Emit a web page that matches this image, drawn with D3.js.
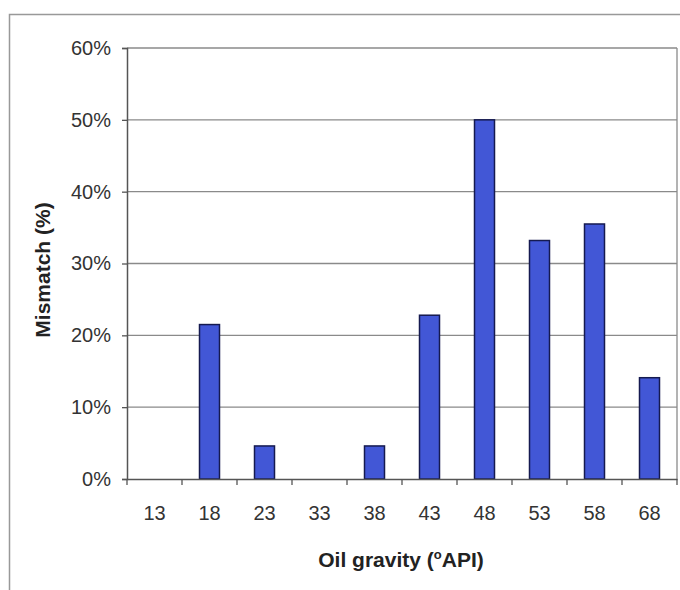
<!DOCTYPE html>
<html><head><meta charset="utf-8">
<script src="https://cdn.jsdelivr.net/npm/d3@7"></script>
<style>body{margin:0;background:#fff;} svg{display:block;}</style>
</head><body>
<script>
const categories = ["13","18","23","33","38","43","48","53","58","68"];
const mismatch = [0, 21.5, 4.6, 0, 4.6, 22.8, 50, 33.2, 35.5, 14.1];
const yTicks = [0,10,20,30,40,50,60];

const W = 680, H = 590;
const svg = d3.select("body").append("svg").attr("width", W).attr("height", H);
const font = "Liberation Sans, Arial, sans-serif";

// outer chart frame
svg.append("path").attr("d","M9.5,590 V14.5 H680").attr("fill","none").attr("stroke","#999").attr("stroke-width",1.5);

const m = {left:127, right:677, top:48, bottom:479};
const xb = d3.scaleBand().domain(categories).range([m.left, m.right]);
const y = d3.scaleLinear().domain([0,60]).range([m.bottom, m.top]);

// gridlines
svg.append("g").selectAll("line").data(yTicks.filter(d=>d>0)).join("line")
  .attr("x1", m.left).attr("x2", m.right).attr("y1", d=>y(d)).attr("y2", d=>y(d))
  .attr("stroke","#8a8a8a").attr("stroke-width",1.3);
// right edge
svg.append("line").attr("x1",m.right).attr("x2",m.right).attr("y1",m.top).attr("y2",m.bottom)
  .attr("stroke","#8a8a8a").attr("stroke-width",1.3);

// bars
svg.append("g").selectAll("rect").data(categories.map((c,i)=>({c,v:mismatch[i]})).filter(d=>d.v>0)).join("rect")
  .attr("x", d=>xb(d.c) + xb.bandwidth()/2 - 10).attr("width", 20)
  .attr("y", d=>y(d.v)).attr("height", d=>y(0)-y(d.v))
  .attr("fill","#4257d6").attr("stroke","#151a50").attr("stroke-width",1.5);

// y axis
const yAxis = d3.axisLeft(y).tickValues(yTicks).tickFormat(d=>d+"%").tickSize(5).tickPadding(11);
const gy = svg.append("g").attr("transform",`translate(${m.left},0)`).call(yAxis);
gy.select(".domain").attr("stroke","#555").attr("stroke-width",1.5);
gy.selectAll(".tick line").attr("stroke","#555").attr("stroke-width",1.3);
gy.selectAll("text").attr("font-family",font).attr("font-size",20).attr("fill","#333");

// x axis
const xAxis = d3.axisBottom(xb).tickValues([]).tickSizeOuter(0);
const gx = svg.append("g").attr("transform",`translate(0,${m.bottom})`).call(xAxis);
gx.select(".domain").attr("stroke","#555").attr("stroke-width",1.5);
const edges = categories.map(c=>xb(c)).concat([m.right]);
gx.selectAll("line.edge").data(edges).join("line").attr("class","edge")
  .attr("x1",d=>d).attr("x2",d=>d).attr("y1",0).attr("y2",6).attr("stroke","#555").attr("stroke-width",1.3);
gx.selectAll("text.lab").data(categories).join("text").attr("class","lab")
  .attr("x", d=>xb(d)+xb.bandwidth()/2).attr("y", 41).attr("text-anchor","middle")
  .attr("font-family",font).attr("font-size",20).attr("fill","#333").text(d=>d);

// axis titles
svg.append("text").attr("transform","translate(50,270) rotate(-90)").attr("text-anchor","middle")
  .attr("font-family",font).attr("font-size",21).attr("font-weight","bold").attr("fill","#222").text("Mismatch (%)");
const xt = svg.append("text").attr("x",401).attr("y",567).attr("text-anchor","middle")
  .attr("font-family",font).attr("font-size",21).attr("font-weight","bold").attr("fill","#222");
xt.append("tspan").text("Oil gravity (");
xt.append("tspan").attr("dy",-8).attr("font-size",13).text("o");
xt.append("tspan").attr("dy",8).text("API)");
</script>
</body></html>
